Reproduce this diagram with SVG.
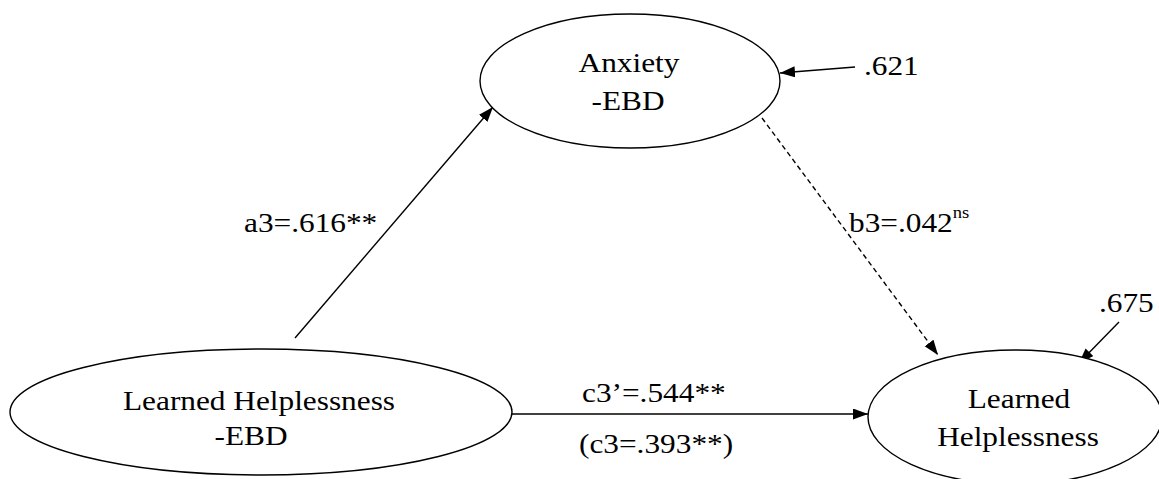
<svg xmlns="http://www.w3.org/2000/svg" width="1159" height="479" viewBox="0 0 1159 479">
<style>
.node{fill:#fff;stroke:#000;stroke-width:1.4}
.t{font-family:'Liberation Serif',Tinos,'Times New Roman',Times,'DejaVu Serif',serif;font-size:27px;fill:#000}
.c{text-anchor:middle}
.e{stroke:#000;stroke-width:1.4;fill:none;marker-end:url(#ah)}
.d{stroke-dasharray:5 3.5}
.sup{font-size:16px}
</style>
<defs>
<marker id="ah" markerUnits="userSpaceOnUse" markerWidth="16" markerHeight="12" refX="15" refY="5.5" orient="auto">
<path d="M0,0 L15,5.5 L0,11 z" fill="#000"/>
</marker>
</defs>
<rect width="1159" height="479" fill="#fff"/>
<g id="connectors">
<line class="e" x1="295" y1="338" x2="493" y2="107"/>
<line class="e" x1="855" y1="67" x2="780" y2="73"/>
<line class="e d" x1="762" y1="118" x2="938" y2="355"/>
<line class="e" x1="1119" y1="322" x2="1079" y2="363"/>
<line class="e" x1="502" y1="414" x2="868" y2="414"/>
</g>
<g id="anxiety">
<ellipse class="node" cx="630" cy="81" rx="150" ry="67"/>
<text class="t c" font-family="Liberation Serif, serif" transform="translate(629,72) scale(1.16,1)">Anxiety</text>
<text class="t c" font-family="Liberation Serif, serif" transform="translate(628,110) scale(1.16,1)">-EBD</text>
</g>
<g id="lh-ebd">
<ellipse class="node" cx="261" cy="412" rx="251" ry="63"/>
<text class="t c" transform="translate(259,410) scale(1.16,1)">Learned Helplessness</text>
<text class="t c" transform="translate(251,445) scale(1.16,1)">-EBD</text>
</g>
<g id="lh">
<ellipse class="node" cx="1015" cy="417" rx="147" ry="67"/>
<text class="t c" transform="translate(1019,408) scale(1.16,1)">Learned</text>
<text class="t c" transform="translate(1018,446) scale(1.16,1)">Helplessness</text>
</g>
<g id="labels">
<text class="t" transform="translate(244,232) scale(1.16,1)">a3=.616**</text>
<text class="t" transform="translate(864,75) scale(1.16,1)">.621</text>
<text class="t" transform="translate(849,232) scale(1.16,1)">b3=.042<tspan class="sup" dy="-14">ns</tspan></text>
<text class="t" transform="translate(1099,312) scale(1.16,1)">.675</text>
<text class="t" transform="translate(582,402) scale(1.16,1)">c3’=.544**</text>
<text class="t" transform="translate(579,453) scale(1.16,1)">(c3=.393**)</text>
</g>
</svg>
